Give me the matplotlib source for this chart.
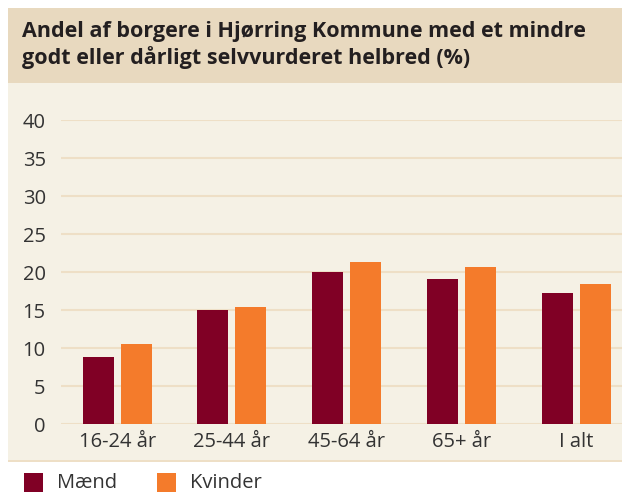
import matplotlib.pyplot as plt
from matplotlib.patches import Rectangle
import numpy as np

# data
categories = ["16-24 år", "25-44 år", "45-64 år", "65+ år", "I alt"]
maend = [8.8, 15.0, 20.0, 19.1, 17.2]
kvinder = [10.5, 15.4, 21.3, 20.7, 18.4]
yticks = [0, 5, 10, 15, 20, 25, 30, 35, 40]

title = "Andel af borgere i Hjørring Kommune med et mindre\ngodt eller dårligt selvvurderet helbred (%)"

MAROON = "#800025"
ORANGE = "#F47B2B"
BAND = "#E8D9BF"
PANEL = "#F5F1E5"
GRID = "#EEDFC6"
TXT = "#333333"

plt.rcParams['font.family'] = ['Open Sans', 'DejaVu Sans']

W, H = 622, 494
fig = plt.figure(figsize=(W / 100, H / 100), dpi=100)
fig.patch.set_facecolor("white")

def px_rect(x0, y0, x1, y1, color, z=0):
    # rectangle in pixel coords, y measured from top
    fig.patches.append(Rectangle((x0 / W, 1 - y1 / H), (x1 - x0) / W, (y1 - y0) / H,
                                 transform=fig.transFigure, facecolor=color,
                                 edgecolor="none", zorder=z))

px_rect(8, 8, W, 83, BAND)
px_rect(8, 83, W, 462, PANEL)
px_rect(8, 460, W, 462, GRID)

fig.text(22 / W, 1 - 45 / H, title, fontsize=15.5, fontweight="bold", color="#231F20",
         va="center", ha="left", linespacing=1.25)

# axes: y=0 at 424 px, y=40 at 120 px
ax = fig.add_axes([61 / W, 1 - 424 / H, (W - 61) / W, 304 / H])
ax.set_zorder(2)
ax.set_facecolor("none")
x = np.arange(len(categories))
w = 0.27
off = 0.166
ax.bar(x - off, maend, w, color=MAROON, zorder=3)
ax.bar(x + off, kvinder, w, color=ORANGE, zorder=3)

ax.set_xlim(-0.49, 4.4)
ax.set_ylim(0, 40)
ax.set_yticks(yticks)
ax.set_xticks(x)
ax.set_xticklabels(categories)
ax.yaxis.grid(True, color=GRID, linewidth=1.5, zorder=0)
ax.set_axisbelow(True)
for s in ax.spines.values():
    s.set_visible(False)
ax.tick_params(axis="both", length=0, labelsize=14.5, colors=TXT)
ax.tick_params(axis="y", pad=11)
ax.tick_params(axis="x", pad=6)

# legend
px_rect(24, 473, 43, 492, MAROON)
px_rect(157, 473, 176, 492, ORANGE)
fig.text(57 / W, 1 - 483 / H, "Mænd", fontsize=14.5, color=TXT, va="center", ha="left")
fig.text(190 / W, 1 - 483 / H, "Kvinder", fontsize=14.5, color=TXT, va="center", ha="left")

fig.savefig("out.png", dpi=100)
